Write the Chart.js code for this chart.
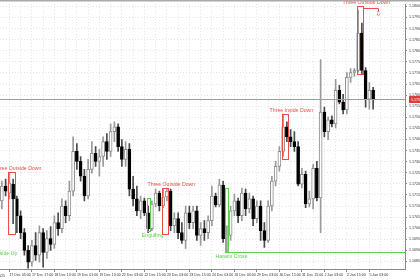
<!DOCTYPE html>
<html>
<head>
<meta charset="utf-8">
<script src="https://cdn.jsdelivr.net/npm/chart.js@4.4.1/dist/chart.umd.min.js"></script>
<style>
html, body { margin: 0; padding: 0; background: #fff; }
canvas { display: block; }
</style>
</head>
<body>
<canvas id="chart" width="420" height="280"></canvas>
<script>
// H2 candles, bar index 0..99
const opens = [
  1.17123,1.17190,1.17158,1.17199,1.17132,1.17056,1.16980,1.16900,1.16847,1.16922,
  1.16878,1.16980,1.16891,1.16953,1.16927,1.17025,1.16998,1.17100,1.17056,1.17167,
  1.17346,1.17301,1.17234,1.17145,1.17265,1.17337,1.17301,1.17323,1.17390,1.17346,
  1.17435,1.17457,1.17368,1.17310,1.17355,1.17176,1.17132,1.17078,1.17123,1.17069,
  1.16998,1.17109,1.17158,1.17100,1.17141,1.17167,1.17011,1.17043,1.16980,1.16945,
  1.17069,1.17025,1.17078,1.16967,1.16998,1.16980,1.17034,1.17145,1.17105,1.17194,
  1.16962,1.16967,1.17078,1.17123,1.17056,1.17158,1.17087,1.17132,1.17043,1.17100,
  1.16989,1.16945,1.17100,1.17212,1.17279,1.17346,1.17457,1.17412,1.17390,1.17368,
  1.17199,1.17243,1.17109,1.17132,1.17270,1.17136,1.17524,1.17435,1.17488,1.17470,
  1.17622,1.17568,1.17533,1.17680,1.17702,1.17711,1.17880,1.17711,1.17582,1.17622
];
const highs = [
  1.17212,1.17221,1.17248,1.17221,1.17145,1.17078,1.16998,1.16922,1.16945,1.16980,
  1.17011,1.16998,1.16989,1.17007,1.17056,1.17069,1.17132,1.17123,1.17212,1.17412,
  1.17381,1.17323,1.17265,1.17310,1.17390,1.17368,1.17355,1.17412,1.17426,1.17470,
  1.17479,1.17470,1.17399,1.17390,1.17381,1.17234,1.17190,1.17145,1.17136,1.17100,
  1.17123,1.17176,1.17167,1.17176,1.17181,1.17176,1.17069,1.17069,1.17025,1.17100,
  1.17100,1.17100,1.17100,1.17025,1.17034,1.17056,1.17190,1.17158,1.17221,1.17212,
  1.17011,1.17100,1.17154,1.17136,1.17181,1.17176,1.17158,1.17145,1.17123,1.17123,
  1.17025,1.17123,1.17234,1.17301,1.17368,1.17515,1.17479,1.17444,1.17435,1.17390,
  1.17270,1.17257,1.17167,1.17288,1.17301,1.17760,1.17546,1.17502,1.17506,1.17671,
  1.17644,1.17604,1.17702,1.17720,1.17720,1.17983,1.17925,1.17724,1.17657,1.17635
];
const lows = [
  1.17087,1.17145,1.17132,1.17020,1.16980,1.16953,1.16878,1.16820,1.16829,1.16855,
  1.16847,1.16824,1.16864,1.16900,1.16909,1.16967,1.16980,1.17025,1.17034,1.17145,
  1.17265,1.17212,1.17123,1.17132,1.17248,1.17279,1.17234,1.17279,1.17310,1.17323,
  1.17390,1.17346,1.17279,1.17279,1.17145,1.17100,1.17056,1.17043,1.17056,1.16980,
  1.16989,1.17096,1.17078,1.17092,1.17123,1.16989,1.16980,1.16953,1.16931,1.16909,
  1.16998,1.16998,1.16945,1.16922,1.16945,1.16953,1.17011,1.17096,1.17096,1.16936,
  1.16891,1.16945,1.17056,1.17025,1.17034,1.17056,1.17069,1.17011,1.17025,1.16945,
  1.16913,1.16936,1.17078,1.17190,1.17257,1.17323,1.17390,1.17368,1.17346,1.17190,
  1.17181,1.17092,1.17096,1.17087,1.17123,1.16980,1.17412,1.17399,1.17457,1.17452,
  1.17560,1.17515,1.17515,1.17657,1.17684,1.17702,1.17693,1.17546,1.17537,1.17537
];
const closes = [
  1.17190,1.17167,1.17203,1.17132,1.17056,1.16980,1.16900,1.16847,1.16922,1.16878,
  1.16980,1.16891,1.16953,1.16927,1.17025,1.16998,1.17100,1.17056,1.17167,1.17346,
  1.17301,1.17234,1.17145,1.17265,1.17337,1.17301,1.17323,1.17390,1.17346,1.17435,
  1.17457,1.17368,1.17310,1.17355,1.17176,1.17132,1.17078,1.17123,1.17069,1.16998,
  1.17109,1.17158,1.17100,1.17141,1.17167,1.17011,1.17043,1.16980,1.16945,1.17069,
  1.17025,1.17078,1.16967,1.16998,1.16980,1.17034,1.17145,1.17105,1.17194,1.16953,
  1.16967,1.17078,1.17123,1.17056,1.17158,1.17087,1.17132,1.17043,1.17100,1.16989,
  1.16945,1.17100,1.17212,1.17279,1.17346,1.17457,1.17412,1.17390,1.17368,1.17199,
  1.17243,1.17109,1.17132,1.17270,1.17136,1.17524,1.17435,1.17488,1.17470,1.17622,
  1.17568,1.17533,1.17680,1.17702,1.17711,1.17880,1.17711,1.17582,1.17622,1.17582
];

// time axis labels (bar index -> text)
const labelBars = [2, 8, 14, 20, 26, 32, 38, 44, 50, 56, 62, 68, 74, 80, 86, 92, 98];
const labelTexts = [
  '17 Dec 05:00', '17 Dec 17:00', '18 Dec 13:00', '19 Dec 01:00', '19 Dec 13:00',
  '22 Dec 03:00', '22 Dec 15:00', '23 Dec 03:00', '23 Dec 15:00', '24 Dec 03:00',
  '26 Dec 03:00', '29 Dec 03:00', '30 Dec 15:00', '31 Dec 15:00', '2 Jan 03:00',
  '2 Jan 15:00', '5 Jan 03:00'
];
const firstDate = '16 Dec 2025';

// detected candle patterns
const patternNames = ['Three Inside Up', 'Three Outside Down', 'Engulfing', 'Three Outside Down', 'Harami Cross', 'Three Inside Down', 'Three Outside Down'];
const patternFrom  = [-3, 2, 39, 43, 60, 75, 95];
const patternTo    = [-2, 3, 39, 44, 60, 76, 96];
const patternTop   = [1.17100, 1.17254, 1.17136, 1.17181, 1.17181, 1.17515, 1.18001];
const patternBot   = [1.16905, 1.16976, 1.16989, 1.16976, 1.16891, 1.17314, 1.17693];
const patternBull  = [true, false, true, false, true, false, false];

const supportLevel = 1.16891;   // Harami Cross low
const lastPrice = closes[closes.length - 1];

const RED = '#ee4b4b';
const GREEN = '#5ad04a';
const FONT = "'Liberation Sans', Arial, sans-serif";

const bodies = opens.map((o, i) => ({ x: i, y: [o, closes[i]] }));
const wicks = lows.map((l, i) => ({ x: i, y: [l, highs[i]] }));
const isUp = opens.map((o, i) => closes[i] >= o);

const gridBars = [];
for (let b = 2; b < 108; b += 3) gridBars.push(b);

const overlay = {
    id: 'overlay',
    afterDatasetsDraw(chart) {
        const { ctx, chartArea, scales: { x, y } } = chart;
        ctx.save();
        ctx.beginPath();
        ctx.rect(0, 0, chartArea.right, chartArea.bottom);
        ctx.clip();
        ctx.setLineDash([]);
        ctx.lineWidth = 1;

        const py = Math.round(y.getPixelForValue(lastPrice)) + 0.5;

        ctx.font = '5.2px ' + FONT;
        ctx.textAlign = 'center';
        patternNames.forEach((name, k) => {
            const col = patternBull[k] ? GREEN : RED;
            const x0 = Math.round(x.getPixelForValue(patternFrom[k]) - 1.5) + 0.5;
            const x1 = Math.round(x.getPixelForValue(patternTo[k]) + 1.5) + 0.5;
            const y0 = Math.round(y.getPixelForValue(patternTop[k])) + 0.5;
            const y1 = Math.round(y.getPixelForValue(patternBot[k])) + 0.5;
            ctx.strokeStyle = col;
            ctx.strokeRect(x0, y0, x1 - x0, y1 - y0);

            ctx.fillStyle = col;
            const cx = x.getPixelForValue(patternTo[k]) + 4.5;
            if (patternBull[k]) {
                ctx.textBaseline = 'top';
                ctx.fillText(name, cx, y1 + 1.5);
            } else {
                ctx.textBaseline = 'bottom';
                ctx.fillText(name, cx, Math.max(y0 - 1.5, 5.5));
            }

            // Harami Cross support line
            if (name === 'Harami Cross') {
                const sy = Math.round(y.getPixelForValue(supportLevel)) + 0.5;
                ctx.beginPath();
                ctx.moveTo(x1, sy);
                ctx.lineTo(chartArea.right, sy);
                ctx.stroke();
            }
            // sell arrow after the last pattern
            if (k === patternNames.length - 1) {
                const ax = x1 + 15;
                ctx.beginPath();
                ctx.moveTo(x1, y0 + 2);
                ctx.lineTo(ax, y0 + 2);
                ctx.lineTo(ax, y0 + 5);
                ctx.stroke();
                ctx.font = "7px 'DejaVu Sans', sans-serif";
                ctx.textBaseline = 'top';
                ctx.fillText('\u21E9', ax, y0 + 4);
                ctx.font = '5.2px ' + FONT;
            }
        });

        // current price line (drawn last so nothing covers it)
        ctx.strokeStyle = '#f07878';
        ctx.beginPath();
        ctx.moveTo(chartArea.left, py);
        ctx.lineTo(chartArea.right, py);
        ctx.stroke();
        ctx.restore();

        // top frame line
        ctx.fillStyle = '#a9a9a9';
        ctx.fillRect(0, 0, chart.width, 1.5);

        // last price marker on the axis
        ctx.fillStyle = '#e23a3a';
        ctx.fillRect(chartArea.right + 4, py - 3.5, 20, 7);
        ctx.fillStyle = '#fff';
        ctx.font = '3.6px ' + FONT;
        ctx.textAlign = 'left';
        ctx.textBaseline = 'middle';
        ctx.fillText(lastPrice.toFixed(5), chartArea.right + 6, py);

        // first (cut) date label
        ctx.fillStyle = '#333';
        ctx.textAlign = 'right';
        ctx.textBaseline = 'top';
        ctx.fillText(firstDate, 5, chartArea.bottom + 5);
    }
};

new Chart(document.getElementById('chart'), {
    type: 'bar',
    data: {
        datasets: [{
            label: 'Body',
            data: bodies,
            grouped: false,
            barThickness: 3,
            minBarLength: 1,
            backgroundColor: isUp.map(u => u ? '#ffffff' : '#000000'),
            borderColor: isUp.map(u => u ? '#8c8c8c' : '#000000'),
            borderWidth: 1,
            borderSkipped: false,
            order: 1
        }, {
            label: 'Wick',
            data: wicks,
            grouped: false,
            barThickness: 1,
            backgroundColor: isUp.map(u => u ? '#9a9a9a' : '#4a4a4a'),
            borderWidth: 0,
            order: 2
        }]
    },
    options: {
        responsive: false,
        animation: false,
        layout: { padding: { top: 1, left: 0, right: 0, bottom: 0 } },
        plugins: {
            legend: { display: false },
            tooltip: { enabled: false }
        },
        scales: {
            x: {
                type: 'linear',
                min: -0.5,
                max: 107.5,
                offset: false,
                afterBuildTicks: s => { s.ticks = gridBars.map(v => ({ value: v })); },
                afterFit: s => { s.height = 11; },
                grid: {
                    offset: false,
                    color: '#e4e4e4',
                    lineWidth: 1,
                    tickLength: 3,
                    tickColor: c => (c.tick && labelBars.includes(c.tick.value)) ? '#888' : 'rgba(0,0,0,0)'
                },
                border: { display: true, color: '#8a8a8a', dash: [1, 2] },
                ticks: {
                    autoSkip: false,
                    maxRotation: 0,
                    align: 'start',
                    padding: 1,
                    color: '#333',
                    font: { size: 3.6, family: FONT },
                    callback: v => {
                        const k = labelBars.indexOf(v);
                        return k >= 0 ? labelTexts[k] : '';
                    }
                }
            },
            y: {
                position: 'right',
                min: 1.16816,
                max: 1.1801,
                afterFit: s => { s.width = 15; },
                grid: {
                    color: '#e4e4e4',
                    lineWidth: 1,
                    tickLength: 2,
                    tickColor: '#888'
                },
                border: { display: true, color: '#8a8a8a', dash: [1, 2] },
                ticks: {
                    stepSize: 0.0005,
                    includeBounds: false,
                    crossAlign: 'near',
                    padding: 2,
                    color: '#333',
                    font: { size: 3.6, family: FONT },
                    callback: v => v.toFixed(5)
                }
            }
        }
    },
    plugins: [overlay]
});
</script>
</body>
</html>
